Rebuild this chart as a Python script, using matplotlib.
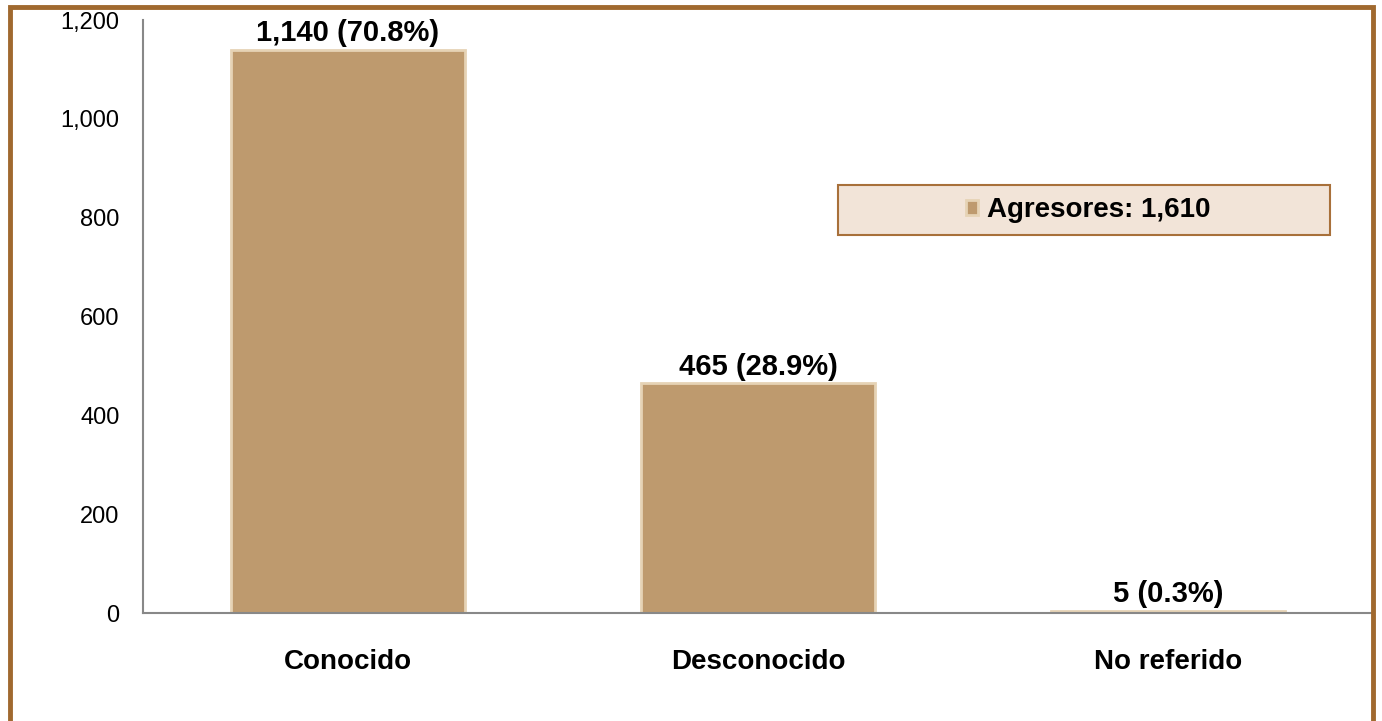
import matplotlib.pyplot as plt
from matplotlib.patches import Rectangle
from matplotlib.ticker import FuncFormatter

plt.rcParams['font.family'] = ['Liberation Sans', 'DejaVu Sans']

categorias = ['Conocido', 'Desconocido', 'No referido']
valores = [1140, 465, 5]
porcentajes = [70.8, 28.9, 0.3]
total = 1610

fig = plt.figure(figsize=(13.82, 7.21), dpi=100)
fig.patch.set_facecolor('white')

# marco marrón de la figura (sin borde inferior visible)
fig.patches.append(Rectangle((10 / 1382, -0.05), 1363 / 1382, 1.05 - 7 / 721,
                             transform=fig.transFigure, fill=False,
                             edgecolor='#A0692F', linewidth=3.5, zorder=0))

ax = fig.add_axes([143 / 1382, 1 - 613 / 721, 1230 / 1382, 593 / 721])
x = range(len(categorias))
ax.bar(x, valores, width=0.57, color='#BE9A6E', edgecolor='#E6D3B5',
       linewidth=2, zorder=2, label=f'Agresores: {total:,}')

for xi, v, p in zip(x, valores, porcentajes):
    ax.text(xi, v + 5, f'{v:,} ({p}%)', ha='center', va='bottom',
            fontsize=21, fontweight='bold')

ax.set_xlim(-0.5, 2.5)
ax.set_ylim(0, 1200)
ax.set_yticks(range(0, 1201, 200))
ax.yaxis.set_major_formatter(FuncFormatter(lambda v, _: f'{int(v):,}'))
ax.set_xticks(list(x))
ax.set_xticklabels(categorias, fontsize=20, fontweight='bold')
ax.tick_params(axis='y', length=0, pad=17, labelsize=17)
ax.tick_params(axis='x', length=0, pad=26)

for s in ['top', 'right']:
    ax.spines[s].set_visible(False)
ax.spines['left'].set_color('#888888')
ax.spines['bottom'].set_color('#888888')
ax.spines['left'].set_linewidth(1.5)
ax.spines['bottom'].set_linewidth(1.5)

# recuadro de la leyenda
ax.add_patch(Rectangle((838 / 1382, 1 - 235 / 721), 492 / 1382, 50 / 721,
                       transform=fig.transFigure, facecolor='#F2E4D8',
                       edgecolor='#A8703A', linewidth=1.5, zorder=4,
                       clip_on=False))
leg = ax.legend(loc='center', bbox_to_anchor=(1088 / 1382, 1 - 210 / 721),
                bbox_transform=fig.transFigure,
                prop={'weight': 'bold', 'size': 20}, frameon=False,
                handlelength=0.45, handleheight=0.45,
                handletextpad=0.3, borderpad=0, borderaxespad=0)
leg.set_zorder(5)

fig.savefig('out.png', dpi=100)
